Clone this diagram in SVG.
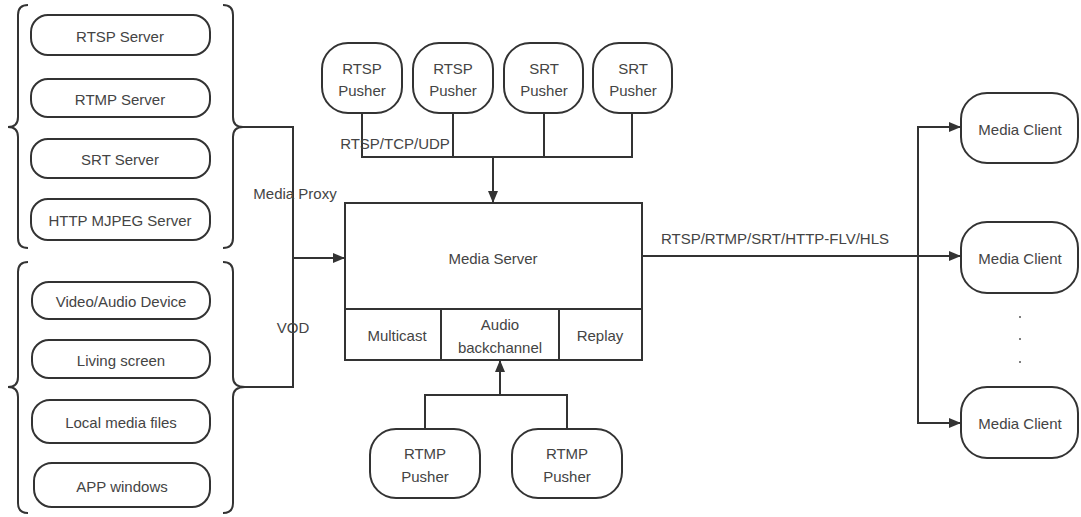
<svg xmlns="http://www.w3.org/2000/svg" width="1081" height="517" viewBox="0 0 1081 517">
<style>
text{font-family:"Liberation Sans",Arial,sans-serif;font-size:15px;fill:#444;text-anchor:middle;dominant-baseline:central}
.pill{fill:#fff;stroke:#333;stroke-width:2}
.box{fill:#fff;stroke:#333;stroke-width:2}
.ln{fill:none;stroke:#333;stroke-width:2}
.brace{fill:none;stroke:#333;stroke-width:2}
</style>
<defs>
<marker id="ah" viewBox="0 0 12 10" refX="12" refY="5" markerWidth="12" markerHeight="10" markerUnits="userSpaceOnUse" orient="auto">
<path d="M0,0 L12,5 L0,10 z" fill="#333"/>
</marker>
</defs>
<rect width="1081" height="517" fill="#fff"/>

<g id="braces">
<path class="brace" d="M28 5 Q18 5 18 15 L18 117 Q18 127 8 127 Q18 127 18 137 L18 238 Q18 248 28 248"/>
<path class="brace" d="M223 5 Q233 5 233 15 L233 117 Q233 127 243 127 Q233 127 233 137 L233 238 Q233 248 223 248"/>
<path class="brace" d="M28 262 Q18 262 18 272 L18 377 Q18 387 8 387 Q18 387 18 397 L18 503 Q18 513 28 513"/>
<path class="brace" d="M223 262 Q233 262 233 272 L233 377 Q233 387 245 387 Q233 387 233 397 L233 503 Q233 513 223 513"/>
</g>

<g id="rtsp-server"><rect class="pill" x="31" y="15" width="179" height="40" rx="17"/><text x="120" y="36">RTSP Server</text></g>
<g id="rtmp-server"><rect class="pill" x="31" y="79" width="179" height="38" rx="17"/><text x="120" y="99">RTMP Server</text></g>
<g id="srt-server"><rect class="pill" x="31" y="139" width="179" height="39" rx="17"/><text x="120" y="159">SRT Server</text></g>
<g id="mjpeg-server"><rect class="pill" x="31" y="199" width="179" height="41" rx="17"/><text x="120" y="220">HTTP MJPEG Server</text></g>

<g id="video-audio"><rect class="pill" x="32" y="282" width="178" height="37" rx="17"/><text x="121" y="301">Video/Audio Device</text></g>
<g id="living-screen"><rect class="pill" x="32" y="340" width="178" height="38" rx="17"/><text x="121" y="360">Living screen</text></g>
<g id="local-files"><rect class="pill" x="32" y="400" width="178" height="43" rx="18"/><text x="121" y="422">Local media files</text></g>
<g id="app-windows"><rect class="pill" x="34" y="463" width="176" height="44" rx="18"/><text x="122" y="486">APP windows</text></g>

<g id="rtsp-pusher-1"><rect class="pill" x="322" y="43" width="80" height="70" rx="26"/><text x="362" y="68">RTSP</text><text x="362" y="90">Pusher</text></g>
<g id="rtsp-pusher-2"><rect class="pill" x="413" y="43" width="80" height="70" rx="26"/><text x="453" y="68">RTSP</text><text x="453" y="90">Pusher</text></g>
<g id="srt-pusher-1"><rect class="pill" x="504" y="43" width="79" height="70" rx="26"/><text x="544" y="68">SRT</text><text x="544" y="90">Pusher</text></g>
<g id="srt-pusher-2"><rect class="pill" x="593" y="43" width="79" height="70" rx="26"/><text x="633" y="68">SRT</text><text x="633" y="90">Pusher</text></g>

<g id="media-server">
<rect class="box" x="345" y="203" width="297" height="157"/>
<line class="ln" x1="345" y1="309" x2="642" y2="309"/>
<line class="ln" x1="441" y1="309" x2="441" y2="360"/>
<line class="ln" x1="559" y1="309" x2="559" y2="360"/>
<text x="493" y="258">Media Server</text>
<text x="397" y="335">Multicast</text>
<text x="500" y="324">Audio</text>
<text x="500" y="347">backchannel</text>
<text x="600" y="335">Replay</text>
</g>

<g id="rtmp-pusher-1"><rect class="pill" x="370" y="429" width="110" height="69" rx="26"/><text x="425" y="453">RTMP</text><text x="425" y="476">Pusher</text></g>
<g id="rtmp-pusher-2"><rect class="pill" x="512" y="429" width="110" height="69" rx="26"/><text x="567" y="453">RTMP</text><text x="567" y="476">Pusher</text></g>

<g id="media-client-1"><rect class="pill" x="961" y="93" width="117" height="70" rx="26"/><text x="1020" y="129">Media Client</text></g>
<g id="media-client-2"><rect class="pill" x="961" y="222" width="117" height="71" rx="26"/><text x="1020" y="258">Media Client</text></g>
<g id="media-client-3"><rect class="pill" x="961" y="387" width="117" height="71" rx="26"/><text x="1020" y="423">Media Client</text></g>
<g id="dots"><circle cx="1020" cy="317" r="1" fill="#555"/><circle cx="1020" cy="339" r="1" fill="#555"/><circle cx="1020" cy="362" r="1" fill="#555"/></g>

<g id="connectors">
<polyline class="ln" points="243,127 293,127 293,387 245,387"/>
<line class="ln" x1="293" y1="258" x2="345" y2="258" stroke-width="2.5" marker-end="url(#ah)"/>
<line class="ln" x1="362" y1="113" x2="362" y2="157"/>
<line class="ln" x1="453" y1="113" x2="453" y2="157"/>
<line class="ln" x1="544" y1="113" x2="544" y2="157"/>
<line class="ln" x1="632" y1="113" x2="632" y2="157"/>
<line class="ln" x1="361" y1="157" x2="633" y2="157"/>
<line class="ln" x1="493" y1="157" x2="493" y2="203" marker-end="url(#ah)"/>
<polyline class="ln" points="425,429 425,395 567,395 567,429"/>
<line class="ln" x1="500" y1="395" x2="500" y2="360" marker-end="url(#ah)"/>
<line class="ln" x1="642" y1="256" x2="918" y2="256" stroke-width="3"/>
<line class="ln" x1="918" y1="127" x2="918" y2="423"/>
<line class="ln" x1="917" y1="127" x2="961" y2="127" marker-end="url(#ah)"/>
<line class="ln" x1="918" y1="256" x2="961" y2="256" marker-end="url(#ah)"/>
<line class="ln" x1="917" y1="423" x2="961" y2="423" marker-end="url(#ah)"/>
</g>

<g id="labels">
<text x="295" y="193">Media Proxy</text>
<text x="293" y="327">VOD</text>
<text x="395" y="143">RTSP/TCP/UDP</text>
<text x="775" y="238">RTSP/RTMP/SRT/HTTP-FLV/HLS</text>
</g>
</svg>
